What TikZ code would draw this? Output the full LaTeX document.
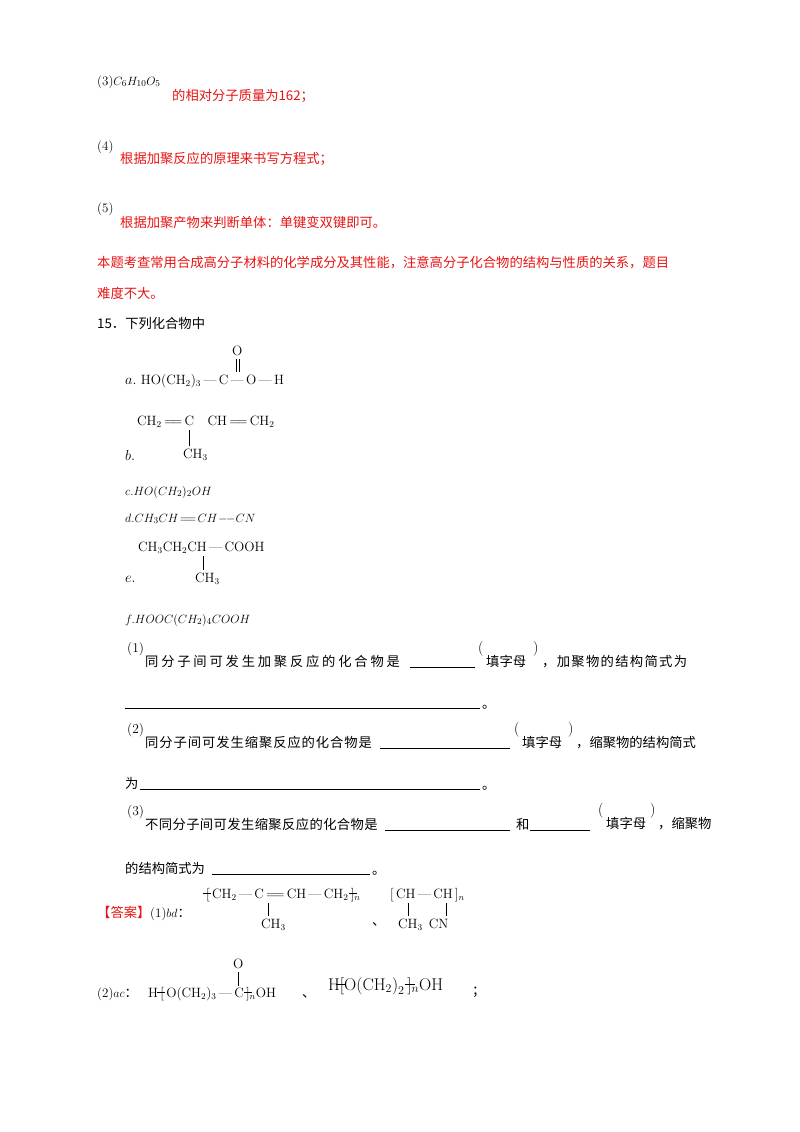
\documentclass[tikz,border=0pt]{standalone}
\usepackage{fontspec}
\newfontfamily\cjk{Noto Sans CJK SC}
\definecolor{rd}{RGB}{230,20,20}
\newcommand{\ls}[1]{\addfontfeature{LetterSpace=#1}}
\newcommand{\tkl}{\rlap{\kern-0.25em\raisebox{0.3em}{\rule{0.6em}{0.5pt}}}}
\newcommand{\tkr}{\llap{\raisebox{0.3em}{\rule{0.6em}{0.5pt}}\kern-0.2em}}
\begin{document}
\begin{tikzpicture}[x=1pt,y=-1pt,
  t/.style={anchor=base west,inner sep=0pt,font=\fontsize{13.3}{15}\selectfont\cjk},
  r/.style={t,text=rd},
  m/.style={anchor=base west,inner sep=0pt,font=\fontsize{13}{15}\selectfont},
  s/.style={anchor=base west,inner sep=0pt,font=\fontsize{13.5}{15}\selectfont},
  pp/.style={anchor=base west,inner sep=0pt,font=\fontsize{15}{17}\selectfont},
  ln/.style={line width=0.6pt}]
\useasboundingbox (0,0) rectangle (800,1132);
% top part
\node[m] (q3) at (97,85) {(3)$C_6H_{10}O_5$};
\node[r] (q3t) at (172,100) {的相对分子质量为162；};
\node[m] (q4) at (97,150) {(4)};
\node[r] (q4t) at (120,163) {根据加聚反应的原理来书写方程式；};
\node[m] (q5) at (97,212) {(5)};
\node[r] (q5t) at (120,227) {根据加聚产物来判断单体：单键变双键即可。};
\node[r] (p1) at (97,267) {本题考查常用合成高分子材料的化学成分及其性能，注意高分子化合物的结构与性质的关系，题目};
\node[r] (p2) at (97,298) {难度不大。};
\node[t] (q15) at (97,328) {15．下列化合物中};
% a
\node[s] (a) at (125,384) {$a.$ HO(CH$_2$)$_3$\,---\,C\,---\,O\,---\,H};
\node[s] (aO) at (232,355) {O};
\draw[ln] (236.5,359)--(236.5,372) (239.5,359)--(239.5,372);
% b
\node[s] (b1) at (137,425) {CH$_2$\,=\!=\,C\quad CH\,=\!=\,CH$_2$};
\draw[ln] (189,430)--(189,446);
\node[s] (b2) at (183,458) {CH$_3$};
\node[s] (b) at (125,460) {$b.$};
\node[m] (c) at (125,495) {$c.HO(CH_2)_2OH$};
\node[m] (d) at (125,522) {$d.CH_3CH\!=\!=\!CH\!-\!\!-CN$};
\node[s] (e1) at (138,551) {CH$_3$CH$_2$CH\,---\,COOH};
\draw[ln] (203,556)--(203,570);
\node[s] (e2) at (195,582) {CH$_3$};
\node[s] (e) at (125,582) {$e.$};
\node[m] (f) at (125,623) {$f.HOOC(CH_2)_4COOH$};
% (1)
\node[s] (n1) at (127,652) {(1)};
\node[t] (n1t) at (145,666) {\ls{21}同分子间可发生加聚反应的化合物是};
\draw[ln] (410,667)--(475,667);
\node[pp] (n1p) at (478,652) {(};
\node[t] (n1f) at (486,666) {填字母};
\node[pp] (n1q) at (533,652) {)};
\node[t] (n1r) at (542,666) {\ls{10}，加聚物的结构简式为};
\draw[ln] (125,708)--(480,708);
\node[t] (n1e) at (482,708) {。};
% (2)
\node[s] (n2) at (127,733) {(2)};
\node[t] (n2t) at (145,747) {\ls{7}同分子间可发生缩聚反应的化合物是};
\draw[ln] (380,748)--(510,748);
\node[pp] (n2p) at (514,733) {(};
\node[t] (n2f) at (522,747) {填字母};
\node[pp] (n2q) at (568,733) {)};
\node[t] (n2r) at (576,747) {，缩聚物的结构简式};
\node[t] (n2w) at (125,788) {为};
\draw[ln] (140,789)--(480,789);
\node[t] (n2e) at (482,789) {。};
% (3)
\node[s] (n3) at (127,815) {(3)};
\node[t] (n3t) at (145,829) {\ls{3}不同分子间可发生缩聚反应的化合物是};
\draw[ln] (385,830)--(510,830);
\node[t] (n3h) at (516,829) {和};
\draw[ln] (530,830)--(590,830);
\node[pp] (n3p) at (598,814) {(};
\node[t] (n3f) at (606,828) {填字母};
\node[pp] (n3q) at (650,814) {)};
\node[t] (n3r) at (658,828) {，缩聚物};
\node[t] (n3w) at (125,873) {的结构简式为};
\draw[ln] (212,874)--(370,874);
\node[t] (n3e) at (372,874) {。};
% answer
\node[r] (ans) at (97,917) {【答案】};
\node[m] (ans1) at (150,917) {(1)$bd$\cjk ：};
\node[s] (pa) at (206,898) {\tkl[\,CH$_2$\,---\,C\,=\!=\,CH\,---\,CH$_2$\,]\tkr$_n$};
\draw[ln] (268,903)--(268,916);
\node[s] (pa2) at (261,928) {CH$_3$};
\node[t] (dun1) at (372,925) {、};
\node[s] (pb) at (390,898) {[\,CH\,---\,CH\,]$_n$};
\draw[ln] (408,903)--(408,916) (446,903)--(446,916);
\node[s] (pb2) at (398,928) {CH$_3$\;\,CN};
\node[m] (ans2) at (97,997) {(2)$ac$\cjk ：};
\node[s] (pc) at (148,997) {H\,\tkl[\,O(CH$_2$)$_3$\,---\,C\,]\tkr$_n$OH};
\node[s] (pcO) at (233,968) {O};
\draw[ln] (238,972)--(238,986);
\node[t] (dun2) at (302,997) {、};
\node[anchor=base west,inner sep=0pt,font=\fontsize{17}{19}\selectfont] (pd) at (328,990) {H\tkl[O$\left(\mathrm{CH_2}\right)_2$\,]\tkr$_n$OH};
\node[t] (sc) at (472,995) {；};
\end{tikzpicture}
\end{document}
